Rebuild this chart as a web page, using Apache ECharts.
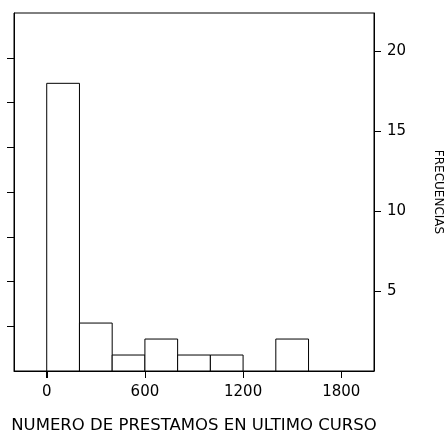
<!DOCTYPE html>
<html lang="es">
<head>
    <meta charset="UTF-8">
    <title>Histograma prestamos</title>
    <script src="https://cdn.jsdelivr.net/npm/echarts@6/dist/echarts.min.js"></script>
</head>
<body style="margin:0;background:#fff">
<div id="main" style="width:448px;height:432px"></div>
<script>
    // limites de cada clase (inicio, fin) y frecuencia
    var binStart = [0, 200, 400, 600, 800, 1000, 1200, 1400]
    var binEnd = [200, 400, 600, 800, 1000, 1200, 1400, 1600]
    var freq = [18, 3, 1, 2, 1, 1, 0, 2]
    var xTicks = [0, 600, 1200, 1800]
    var yTicks = [5, 10, 15, 20]
    var pctTicks = [10, 20, 30, 40, 50, 60, 70]   // eje izquierdo en porcentaje, sin etiquetas

    var total = freq.reduce(function (a, b) { return a + b }, 0)
    var yMax = total * 0.8

    var data = binStart.map(function (s, i) { return [s, binEnd[i], freq[i]] })

    var font = 'DejaVu Sans, sans-serif'
    var plain = function (v) { return String(v) }
    var line = { show: true, onZero: false, lineStyle: { color: '#000' } }
    var chart = echarts.init(document.getElementById('main'))
    var option = {
        animation: false,
        grid: {
            left: 14, right: 74, top: 13, bottom: 61, outerBoundsMode: 'none',
            show: true, borderColor: '#000', borderWidth: 1
        },
        xAxis: {
            type: 'value', min: -200, max: 2000,
            name: 'NUMERO DE PRESTAMOS EN ULTIMO CURSO',
            nameLocation: 'middle', nameGap: 46,
            nameTextStyle: { color: '#000', fontSize: 16.5, fontFamily: font, verticalAlign: 'top' },
            splitLine: { show: false },
            axisLine: line,
            axisTick: { show: true, length: 7, customValues: xTicks, lineStyle: { color: '#000' } },
            axisLabel: { customValues: xTicks, formatter: plain, color: '#000', fontSize: 15, fontFamily: font, margin: 14 }
        },
        yAxis: [
            {
                type: 'value', min: 0, max: yMax, position: 'right',
                name: 'FRECUENCIAS', nameLocation: 'middle', nameGap: 58, nameRotate: -90,
                nameTextStyle: { color: '#000', fontSize: 12, fontFamily: font },
                splitLine: { show: false },
                axisLine: line,
                axisTick: { show: true, length: 7, customValues: yTicks, lineStyle: { color: '#000' } },
                axisLabel: { customValues: yTicks, formatter: plain, color: '#000', fontSize: 15, fontFamily: font, margin: 13 }
            },
            {
                type: 'value', min: 0, max: 80, position: 'left',
                splitLine: { show: false },
                axisLine: line,
                axisTick: { show: true, length: 7, customValues: pctTicks, lineStyle: { color: '#000' } },
                axisLabel: { show: false }
            }
        ],
        series: [
            {
                type: 'custom',
                yAxisIndex: 0,
                data: data,
                encode: { x: [0, 1], y: 2 },
                renderItem: function (params, api) {
                    if (api.value(2) === 0) return null
                    var p0 = api.coord([api.value(0), 0])
                    var p1 = api.coord([api.value(1), api.value(2)])
                    return {
                        type: 'rect',
                        shape: { x: p0[0], y: p1[1], width: p1[0] - p0[0], height: p0[1] - p1[1] },
                        style: { fill: '#fff', stroke: '#000', lineWidth: 1 }
                    }
                }
            },
            {
                // marcas del eje x (las del eje no se ven en v6)
                type: 'custom',
                yAxisIndex: 0,
                clip: false,
                silent: true,
                data: xTicks.map(function (v) { return [v] }),
                encode: { x: 0 },
                renderItem: function (params, api) {
                    var p = api.coord([api.value(0), 0])
                    var x = Math.round(p[0]) + 0.5
                    return {
                        type: 'line',
                        shape: { x1: x, y1: p[1], x2: x, y2: p[1] + 7 },
                        style: { stroke: '#000', lineWidth: 1 }
                    }
                }
            }
        ]
    }
    chart.setOption(option)
</script>
</body>
</html>
